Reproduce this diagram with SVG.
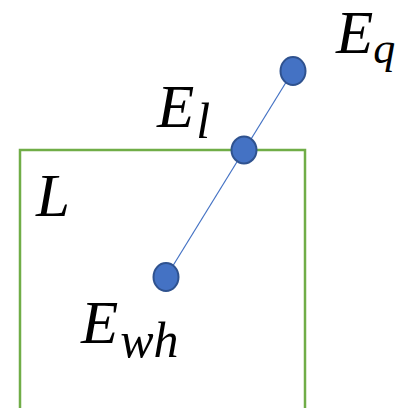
<svg xmlns="http://www.w3.org/2000/svg" width="398" height="408" viewBox="0 0 398 408">
<style>
.t{font-family:"Liberation Serif","DejaVu Serif",serif;font-style:italic;fill:#000}
.m{font-size:61px}
.s{font-size:50px}
.pt{fill:#4472C4;stroke:#2F528F;stroke-width:2}
</style>
<rect x="0" y="0" width="398" height="408" fill="#fff"/>
<g id="region-L">
<rect x="20" y="150" width="285" height="270" fill="none" stroke="#70AD47" stroke-width="2.5"/>
<text class="t m" x="36" y="216">L</text>
</g>
<g id="connectors">
<line x1="293" y1="71" x2="166" y2="277" stroke="#4472C4" stroke-width="1.2"/>
</g>
<g id="Eq">
<ellipse class="pt" cx="293" cy="71" rx="12.5" ry="14"/>
<text class="t" x="336" y="53"><tspan class="m">E</tspan><tspan class="s" dx="0" dy="10" style="font-size:44px">q</tspan></text>
</g>
<g id="El">
<ellipse class="pt" cx="244" cy="150" rx="12.5" ry="13.5"/>
<text class="t" x="157" y="127"><tspan class="m">E</tspan><tspan class="s" dx="2" dy="11">l</tspan></text>
</g>
<g id="Ewh">
<ellipse class="pt" cx="166" cy="277" rx="12.5" ry="14"/>
<text class="t" x="81" y="343"><tspan class="m">E</tspan><tspan class="s" dx="2" dy="14">wh</tspan></text>
</g>
</svg>
